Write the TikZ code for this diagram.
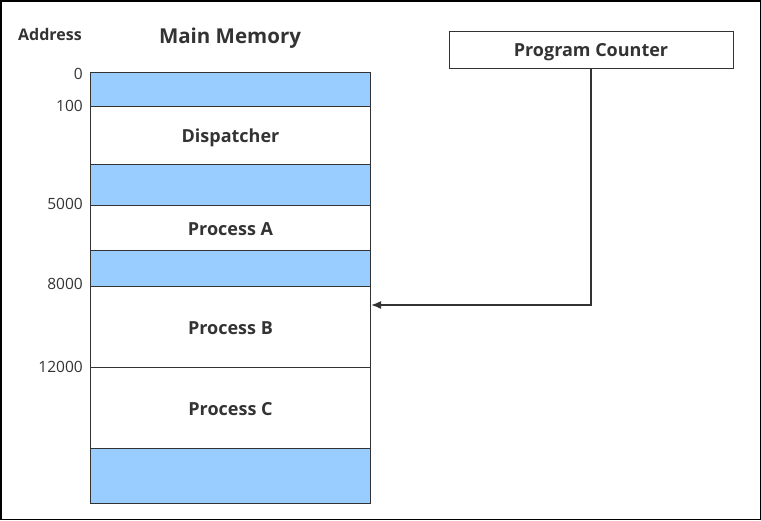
\documentclass[tikz,border=0pt]{standalone}
\usepackage{fontspec}
\setmainfont{Open Sans}
\usetikzlibrary{arrows.meta}
\definecolor{txt}{HTML}{333333}
\definecolor{memblue}{HTML}{99CCFF}
\begin{document}
\begin{tikzpicture}[x=1pt,y=-1pt,
  lbl/.style={text=txt, font=\fontsize{18}{20}\selectfont\bfseries, text height=15pt, text depth=1pt},
  blk/.style={lbl, draw=txt, line width=1pt, anchor=north west, minimum width=280pt, inner sep=0pt},
  free/.style={blk, fill=memblue},
  addr/.style={anchor=east, text=txt, inner sep=0pt, font=\fontsize{15.5}{17}\selectfont},
  conn/.style={draw=txt, line width=1.6pt, -{Latex[length=10pt,width=8pt]}}]
\useasboundingbox (0,0) rectangle (761,520);
\draw[black, line width=1.5pt] (0.75,0.75) rectangle (760.25,519.25);
\node[text=txt, font=\fontsize{16}{18}\selectfont\bfseries] (addrt) at (50,34) {Address};
\node[text=txt, font=\fontsize{20.5}{24}\selectfont\bfseries] (mmt) at (230,38) {Main Memory};
\node[free, minimum height=34pt] (f0) at (90,72) {};
\node[blk, minimum height=58pt] (disp) at (90,106) {Dispatcher};
\node[free, minimum height=41pt] (f1) at (90,164) {};
\node[blk, minimum height=45pt] (proca) at (90,205) {Process A};
\node[free, minimum height=36pt] (f2) at (90,250) {};
\node[blk, minimum height=81pt] (procb) at (90,286) {Process B};
\node[blk, minimum height=81pt] (procc) at (90,367) {Process C};
\node[free, minimum height=55pt] (f3) at (90,448) {};
\node[addr] (a0) at (83,74) {0};
\node[addr] (a100) at (83,106) {100};
\node[addr] (a5000) at (83,204) {5000};
\node[addr] (a8000) at (83,284) {8000};
\node[addr] (a12000) at (83,367) {12000};
\node[lbl, draw=txt, line width=1pt, minimum width=284pt, minimum height=37pt, inner sep=0pt] (pc) at (591,49.5) {Program Counter};
\draw[conn] (pc.south) |- (procb.east |- 0,305);
\end{tikzpicture}
\end{document}
